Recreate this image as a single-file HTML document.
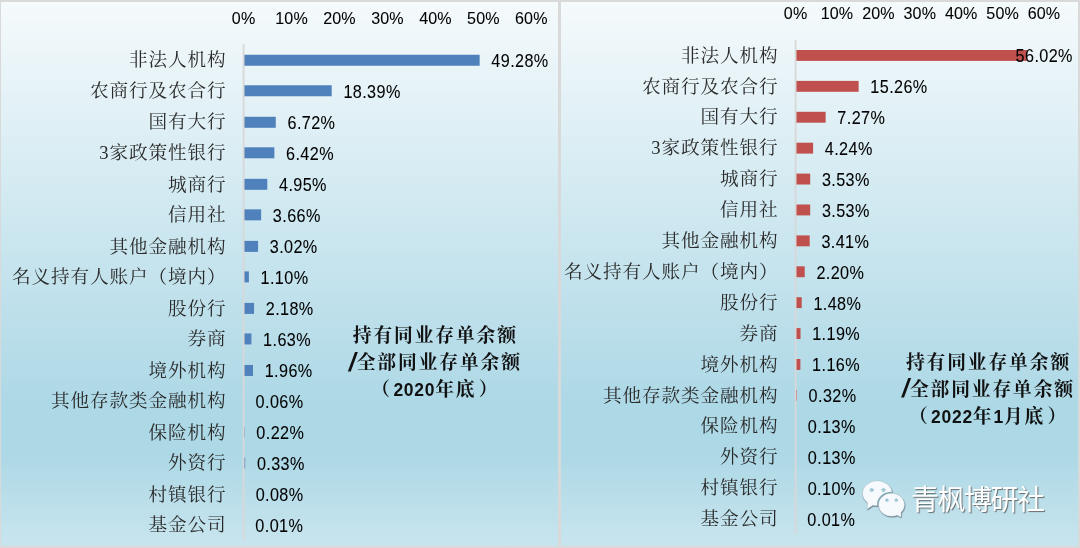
<!DOCTYPE html>
<html lang="zh-CN"><head><meta charset="utf-8"><title>持有同业存单余额</title>
<style>
html,body{margin:0;padding:0}
body{width:1080px;height:548px;overflow:hidden;background:#d9d9d9;position:relative;font-family:"Liberation Sans","Noto Sans CJK SC",sans-serif}
.panel{position:absolute;top:2px;height:544px;background:linear-gradient(to bottom,#f5fafc 0%,#add8e6 74%,#add8e6 83%,#c8e5ee 100%)}
#pl{left:1px;width:557px}
#pr{left:561px;width:517px}
.abs{position:absolute;white-space:nowrap}
.cat{font-family:"Liberation Serif","Noto Serif CJK SC",serif;font-size:18.6px;letter-spacing:.9px;margin-right:-.9px;color:#2a2a2a;text-align:right;line-height:24px;height:24px;font-weight:400}
.num{font-family:"Liberation Sans",sans-serif;font-size:16.2px;letter-spacing:.4px;color:#000;line-height:20px;height:20px;transform:scaleY(1.08);transform-origin:0 50%;-webkit-text-stroke:.08px #000}
.tick{font-family:"Liberation Sans",sans-serif;font-size:16.1px;letter-spacing:.1px;color:#000;line-height:20px;height:20px;width:60px;text-align:center;transform:scaleY(1.08);transform-origin:50% 50%;-webkit-text-stroke:.08px #000}
#g{position:absolute;left:0;top:0}
.ttl{font-family:"Liberation Sans","Noto Serif CJK SC",serif;font-weight:700;font-size:18.8px;letter-spacing:1.85px;line-height:27.2px;text-align:center;color:#111;width:240px}
.ttl b{font-family:"Liberation Sans",sans-serif;font-weight:700;font-size:17.5px;letter-spacing:.7px}
.ttl i{font-family:"Liberation Sans",sans-serif;font-weight:700;font-style:italic;font-size:25px;line-height:0;letter-spacing:0;margin-right:1px;position:relative;top:1.5px}
.ttl u{text-decoration:none;letter-spacing:3.4px}
.ttl s{text-decoration:none;margin-left:2.3px}
.wm{font-family:"Liberation Sans","Noto Sans CJK SC",sans-serif;font-weight:400;font-size:28px;letter-spacing:-1.5px;color:#fff;text-shadow:1px 1px 1px rgba(80,80,80,.8);line-height:32px}
</style></head><body>
<div class="panel" id="pl"></div><div class="panel" id="pr"></div>

<svg id="g" width="1080" height="548" viewBox="0 0 1080 548">
<rect x="243.60" y="54.75" width="236.05" height="11.0" fill="#4f81bd"/>
<rect x="243.60" y="85.27" width="88.09" height="11.0" fill="#4f81bd"/>
<rect x="243.60" y="116.79" width="32.19" height="11.0" fill="#4f81bd"/>
<rect x="243.60" y="147.31" width="30.75" height="11.0" fill="#4f81bd"/>
<rect x="243.60" y="178.83" width="23.71" height="11.0" fill="#4f81bd"/>
<rect x="243.60" y="209.35" width="17.53" height="11.0" fill="#4f81bd"/>
<rect x="243.60" y="240.87" width="14.47" height="11.0" fill="#4f81bd"/>
<rect x="243.60" y="271.39" width="5.27" height="11.0" fill="#4f81bd"/>
<rect x="243.60" y="302.91" width="10.44" height="11.0" fill="#4f81bd"/>
<rect x="243.60" y="333.43" width="7.81" height="11.0" fill="#4f81bd"/>
<rect x="243.60" y="364.95" width="9.39" height="11.0" fill="#4f81bd"/>
<rect x="243.60" y="426.99" width="1.05" height="11.0" fill="#4f81bd"/>
<rect x="243.60" y="457.51" width="1.58" height="11.0" fill="#4f81bd"/>
<rect x="242.70" y="44.2" width="1.8" height="496.80" fill="#d8d8d8"/>
<rect x="795.60" y="50.00" width="231.42" height="10.9" fill="#c0504d"/>
<rect x="795.60" y="80.90" width="63.04" height="10.9" fill="#c0504d"/>
<rect x="795.60" y="111.80" width="30.03" height="10.9" fill="#c0504d"/>
<rect x="795.60" y="142.70" width="17.52" height="10.9" fill="#c0504d"/>
<rect x="795.60" y="173.60" width="14.58" height="10.9" fill="#c0504d"/>
<rect x="795.60" y="204.50" width="14.58" height="10.9" fill="#c0504d"/>
<rect x="795.60" y="235.40" width="14.09" height="10.9" fill="#c0504d"/>
<rect x="795.60" y="266.30" width="9.09" height="10.9" fill="#c0504d"/>
<rect x="795.60" y="297.20" width="6.11" height="10.9" fill="#c0504d"/>
<rect x="795.60" y="328.10" width="4.92" height="10.9" fill="#c0504d"/>
<rect x="795.60" y="359.00" width="4.79" height="10.9" fill="#c0504d"/>
<rect x="795.60" y="389.90" width="1.32" height="10.9" fill="#c0504d"/>
<rect x="794.70" y="40.2" width="1.8" height="494.40" fill="#d8d8d8"/>
</svg>
<div class="abs tick" style="left:213.60px;top:8.30px">0%</div>
<div class="abs tick" style="left:261.55px;top:8.30px">10%</div>
<div class="abs tick" style="left:309.50px;top:8.30px">20%</div>
<div class="abs tick" style="left:357.45px;top:8.30px">30%</div>
<div class="abs tick" style="left:405.40px;top:8.30px">40%</div>
<div class="abs tick" style="left:453.35px;top:8.30px">50%</div>
<div class="abs tick" style="left:501.30px;top:8.30px">60%</div>
<div class="abs cat" style="right:854.50px;top:48.45px">非法人机构</div>
<div class="abs num" style="left:491.35px;top:51.05px">49.28%</div>
<div class="abs cat" style="right:854.50px;top:78.97px">农商行及农合行</div>
<div class="abs num" style="left:343.39px;top:81.57px">18.39%</div>
<div class="abs cat" style="right:854.50px;top:110.49px">国有大行</div>
<div class="abs num" style="left:287.49px;top:113.09px">6.72%</div>
<div class="abs cat" style="right:854.50px;top:141.01px">3家政策性银行</div>
<div class="abs num" style="left:286.05px;top:143.61px">6.42%</div>
<div class="abs cat" style="right:854.50px;top:172.53px">城商行</div>
<div class="abs num" style="left:279.01px;top:175.13px">4.95%</div>
<div class="abs cat" style="right:854.50px;top:203.05px">信用社</div>
<div class="abs num" style="left:272.83px;top:205.65px">3.66%</div>
<div class="abs cat" style="right:854.50px;top:234.57px">其他金融机构</div>
<div class="abs num" style="left:269.77px;top:237.17px">3.02%</div>
<div class="abs cat" style="right:854.50px;top:265.09px">名义持有人账户（境内）</div>
<div class="abs num" style="left:260.57px;top:267.69px">1.10%</div>
<div class="abs cat" style="right:854.50px;top:296.61px">股份行</div>
<div class="abs num" style="left:265.74px;top:299.21px">2.18%</div>
<div class="abs cat" style="right:854.50px;top:327.13px">券商</div>
<div class="abs num" style="left:263.11px;top:329.73px">1.63%</div>
<div class="abs cat" style="right:854.50px;top:358.65px">境外机构</div>
<div class="abs num" style="left:264.69px;top:361.25px">1.96%</div>
<div class="abs cat" style="right:854.50px;top:389.17px">其他存款类金融机构</div>
<div class="abs num" style="left:255.59px;top:391.77px">0.06%</div>
<div class="abs cat" style="right:854.50px;top:420.69px">保险机构</div>
<div class="abs num" style="left:256.35px;top:423.29px">0.22%</div>
<div class="abs cat" style="right:854.50px;top:451.21px">外资行</div>
<div class="abs num" style="left:256.88px;top:453.81px">0.33%</div>
<div class="abs cat" style="right:854.50px;top:482.73px">村镇银行</div>
<div class="abs num" style="left:255.68px;top:485.33px">0.08%</div>
<div class="abs cat" style="right:854.50px;top:513.25px">基金公司</div>
<div class="abs num" style="left:255.35px;top:515.85px">0.01%</div>
<div class="abs tick" style="left:765.60px;top:3.30px">0%</div>
<div class="abs tick" style="left:807.00px;top:3.30px">10%</div>
<div class="abs tick" style="left:848.40px;top:3.30px">20%</div>
<div class="abs tick" style="left:889.80px;top:3.30px">30%</div>
<div class="abs tick" style="left:931.20px;top:3.30px">40%</div>
<div class="abs tick" style="left:972.60px;top:3.30px">50%</div>
<div class="abs tick" style="left:1014.00px;top:3.30px">60%</div>
<div class="abs cat" style="right:302.50px;top:43.65px">非法人机构</div>
<div class="abs num" style="left:1015.60px;top:46.35px">56.02%</div>
<div class="abs cat" style="right:302.50px;top:74.55px">农商行及农合行</div>
<div class="abs num" style="left:870.34px;top:77.25px">15.26%</div>
<div class="abs cat" style="right:302.50px;top:105.45px">国有大行</div>
<div class="abs num" style="left:837.33px;top:108.15px">7.27%</div>
<div class="abs cat" style="right:302.50px;top:136.35px">3家政策性银行</div>
<div class="abs num" style="left:824.82px;top:139.05px">4.24%</div>
<div class="abs cat" style="right:302.50px;top:167.25px">城商行</div>
<div class="abs num" style="left:821.88px;top:169.95px">3.53%</div>
<div class="abs cat" style="right:302.50px;top:198.15px">信用社</div>
<div class="abs num" style="left:821.88px;top:200.85px">3.53%</div>
<div class="abs cat" style="right:302.50px;top:229.05px">其他金融机构</div>
<div class="abs num" style="left:821.39px;top:231.75px">3.41%</div>
<div class="abs cat" style="right:302.50px;top:259.95px">名义持有人账户（境内）</div>
<div class="abs num" style="left:816.39px;top:262.65px">2.20%</div>
<div class="abs cat" style="right:302.50px;top:290.85px">股份行</div>
<div class="abs num" style="left:813.41px;top:293.55px">1.48%</div>
<div class="abs cat" style="right:302.50px;top:321.75px">券商</div>
<div class="abs num" style="left:812.22px;top:324.45px">1.19%</div>
<div class="abs cat" style="right:302.50px;top:352.65px">境外机构</div>
<div class="abs num" style="left:812.09px;top:355.35px">1.16%</div>
<div class="abs cat" style="right:302.50px;top:383.55px">其他存款类金融机构</div>
<div class="abs num" style="left:808.62px;top:386.25px">0.32%</div>
<div class="abs cat" style="right:302.50px;top:414.45px">保险机构</div>
<div class="abs num" style="left:807.84px;top:417.15px">0.13%</div>
<div class="abs cat" style="right:302.50px;top:445.35px">外资行</div>
<div class="abs num" style="left:807.84px;top:448.05px">0.13%</div>
<div class="abs cat" style="right:302.50px;top:476.25px">村镇银行</div>
<div class="abs num" style="left:807.71px;top:478.95px">0.10%</div>
<div class="abs cat" style="right:302.50px;top:507.15px">基金公司</div>
<div class="abs num" style="left:807.34px;top:509.85px">0.01%</div>
<div class="abs ttl" style="left:315.3px;top:322px">持有同业存单余额<br><i>/</i>全部同业存单余额<br><u>（</u><b>2020</b>年底<s>）</s></div>
<div class="abs ttl" style="left:868.5px;top:348.6px">持有同业存单余额<br><i>/</i>全部同业存单余额<br><u>（</u><b>2022</b>年<b>1</b>月底<s>）</s></div>
<svg class="abs" style="left:0;top:0" width="1080" height="548" viewBox="0 0 1080 548">
<defs>
<filter id="sh" x="-20%" y="-20%" width="150%" height="150%"><feDropShadow dx="0.5" dy="0.9" stdDeviation="0.45" flood-color="#50626a" flood-opacity=".85"/></filter>
<clipPath id="bc"><ellipse cx="877.4" cy="493.4" rx="14.8" ry="12.5"/></clipPath>
</defs>
<g filter="url(#sh)"><path d="M867.5 502.7A14.8 12.5 0 1 1 873 505.3L867 509.300z" fill="#f6fafc" stroke="#8aa4ae" stroke-opacity=".55" stroke-width=".6"/></g>
<ellipse cx="891.3" cy="504.6" rx="14.3" ry="12.9" fill="#86a9b6" clip-path="url(#bc)"/>
<g filter="url(#sh)"><path d="M897.2 515.2A13 11.6 0 1 1 901 512.700L901 517.300z" fill="#f6fafc" stroke="#8aa4ae" stroke-opacity=".55" stroke-width=".6"/></g>
<g fill="#a9d1de"><circle cx="871.7" cy="490.3" r="1.9"/><circle cx="883.5" cy="490.3" r="1.9"/><circle cx="887" cy="500.4" r="1.6"/><circle cx="896.3" cy="500.4" r="1.6"/></g>
<g fill="none" stroke="#7fa3b1" stroke-width=".7" stroke-linecap="round"><path d="M870 489.700a1.900 1.900 0 0 1 3.400 0"/><path d="M881.800 489.700a1.900 1.900 0 0 1 3.400 0"/><path d="M885.600 499.900a1.600 1.600 0 0 1 2.800 0"/><path d="M894.900 499.900a1.600 1.600 0 0 1 2.800 0"/></g>
</svg>
<div class="abs wm" style="left:911px;top:484.5px">青枫博研社</div>
</body></html>
